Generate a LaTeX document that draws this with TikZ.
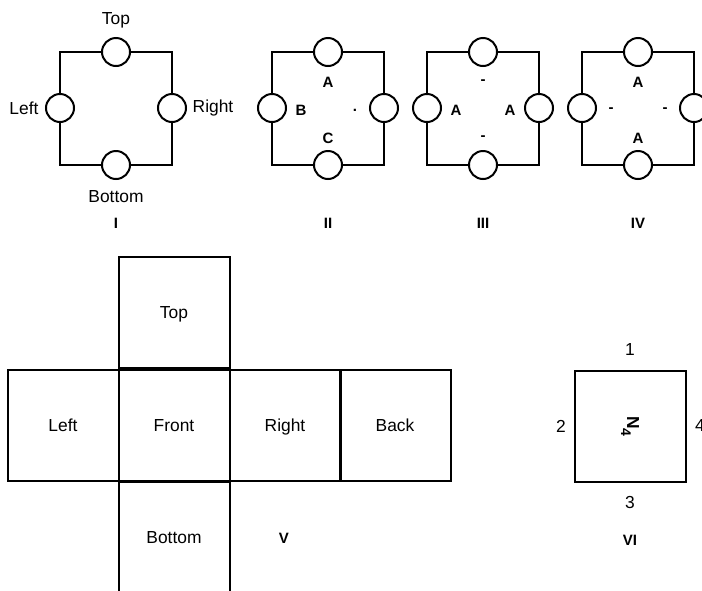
\documentclass[tikz,border=0pt]{standalone}
\usepackage{fontspec}
\setmainfont{Liberation Sans}
\usetikzlibrary{positioning}

\begin{document}
\begin{tikzpicture}[
  x=0.5pt,y=-0.5pt,
  line width=1pt,
  font=\fontsize{8.7}{10}\selectfont,
  port/.style={draw,circle,fill=white,minimum size=14pt,inner sep=0pt},
  tag/.style={font=\fontsize{7.5}{8}\selectfont\bfseries,inner sep=1pt},
  face/.style={draw,minimum size=55.5pt,inner sep=0pt,text height=1.5ex,text depth=.3ex}
]
  \useasboundingbox (0,0) rectangle (702,590);

  % four port squares, one circle on each side
  \foreach \cx/\n in {116/1,328/2,483/3,638/4} {
    \node[port] (t\n) at (\cx,52) {};
    \node[port] (b\n) at (\cx,165) {};
    \node[port] (l\n) at ({\cx-56},108) {};
    \node[port] (r\n) at ({\cx+56},108) {};
    \draw (t\n.west) -| (l\n.north);
    \draw (l\n.south) |- (b\n.west);
    \draw (b\n.east) -| (r\n.south);
    \draw (r\n.north) |- (t\n.east);
  }

  \node (ltop) at (116,20) {Top};
  \node (lleft) at (24,108) {Left};
  \node (lright) at (213,108) {Right};
  \node (lbottom) at (116,197) {Bottom};

  % side marks inside squares II--IV
  \foreach \cx/\n/\up/\lf/\rt/\dn in {328/2/A/B/./C,483/3/-/A/A/-,638/4/A/-/-/A} {
    \node[tag] (mu\n) at (\cx,82) {\up};
    \node[tag] (ml\n) at ({\cx-27},110) {\lf};
    \node[tag] (mr\n) at ({\cx+27},110) {\rt};
    \node[tag] (md\n) at (\cx,138) {\dn};
  }

  \node[tag] (num1) at (116,223) {I};
  \node[tag] (num2) at (328,223) {II};
  \node[tag] (num3) at (483,223) {III};
  \node[tag] (num4) at (638,223) {IV};

  % unfolded cube
  \node[face] (ftop) at (174,312.5) {Top};
  \node[face] (fleft) at (63,425.5) {Left};
  \node[face] (ffront) at (174,425.5) {Front};
  \node[face] (fright) at (285,425.5) {Right};
  \node[face] (fback) at (395,425.5) {Back};
  \node[face] (fbottom) at (174,537.5) {Bottom};
  \node[tag] (num5) at (284,538) {V};

  % single face with numbered sides
  \node[face] (nface) at (630,426) {};
  \node[rotate=-90,font=\fontsize{8.7}{10}\selectfont\bfseries] (nlbl) at (630,426)
    {N\kern-.3pt\raisebox{-3pt}{\fontsize{7}{8}\selectfont 4}};
  \node (side1) at (630,350) {1};
  \node (side2) at (561,426) {2};
  \node (side3) at (630,503) {3};
  \node (side4) at (700,426) {4};
  \node[tag] (num6) at (630,540) {VI};
\end{tikzpicture}
\end{document}
